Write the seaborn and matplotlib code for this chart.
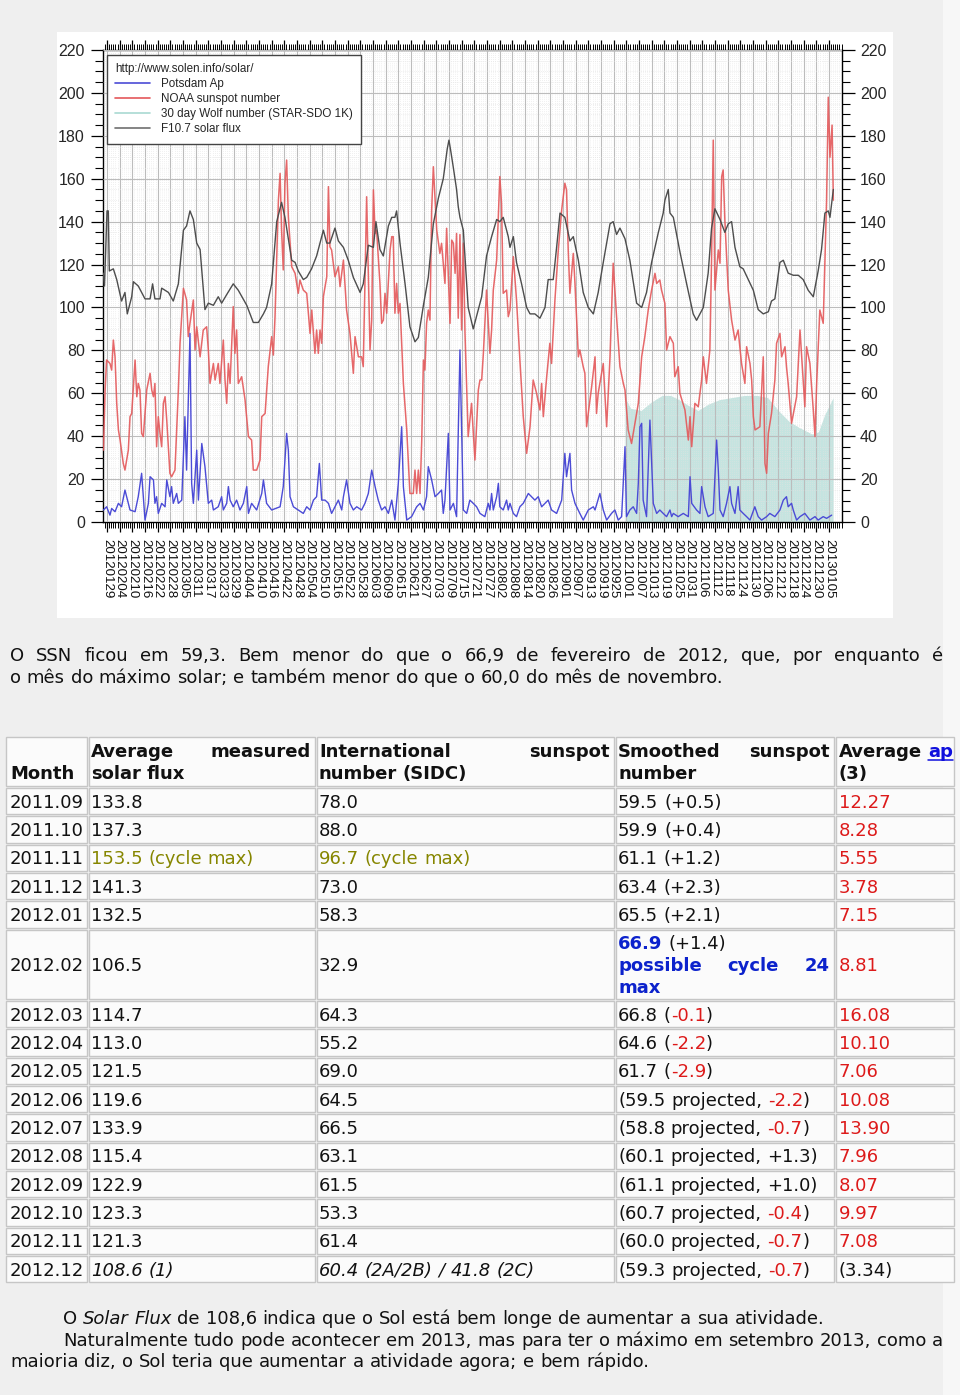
import re
import numpy as np
import pandas as pd
import matplotlib
matplotlib.use("Agg")
import matplotlib.pyplot as plt
import seaborn as sns
from matplotlib.patches import Rectangle
from matplotlib.lines import Line2D
from matplotlib.ticker import MultipleLocator, FixedLocator

W, H = 960, 1395

# ---------------- chart data (day offset from 2012-01-29) ----------------
flux_day = [-1.8, -1.2, 0.0, 0.6, 1.1, 3.0, 4.6, 6.9, 8.5, 9.6,
            11.7, 12.5, 14.8, 18.0, 20.4, 21.6, 22.7, 25.1, 25.9, 29.1,
            31.4, 33.8, 36.2, 37.7, 39.3, 40.9, 42.5, 44.1, 46.4, 48.0,
            50.4, 52.7, 54.3, 56.7, 59.8, 62.2, 66.2, 69.3, 71.7, 74.1,
            75.6, 78.0, 80.4, 82.7, 84.3, 87.5, 89.1, 90.6, 93.0, 94.6,
            96.9, 99.3, 102.5, 104.1, 105.6, 108.0, 109.6, 112.0, 114.3, 116.7,
            119.9, 121.4, 123.8, 126.2, 127.4, 129.3, 130.9, 133.3, 134.9, 136.4,
            137.2, 138.8, 141.2, 143.5, 145.9, 147.5, 149.9, 152.2, 154.6, 157.0,
            159.3, 161.2, 162.0, 163.0, 164.1, 165.6, 166.4, 167.2, 168.8, 171.1,
            173.5, 175.1, 177.5, 179.8, 182.2, 184.6, 186.1, 187.7, 190.1, 190.9,
            192.5, 194.0, 196.4, 198.8, 200.4, 202.7, 205.1, 207.5, 209.0, 211.4,
            213.0, 214.6, 216.9, 219.3, 220.9, 223.3, 225.6, 228.0, 230.4, 232.7,
            235.1, 238.3, 239.8, 241.4, 243.0, 245.4, 247.7, 250.9, 253.3, 255.6,
            258.0, 261.2, 263.5, 264.3, 265.9, 266.7, 268.3, 271.4, 274.6, 277.7,
            279.3, 282.5, 284.8, 286.4, 288.0, 290.4, 292.7, 294.3, 295.9, 297.5,
            299.0, 299.8, 301.4, 303.8, 306.2, 308.5, 310.9, 313.3, 314.8, 316.4,
            318.8, 320.4, 322.7, 325.1, 327.5, 329.8, 332.2, 334.6, 336.9, 338.5,
            340.1, 341.7, 342.5, 344.1]
flux_val = [116, 110, 145, 145, 117, 118, 113, 103, 107, 97,
            105, 112, 110, 104, 104, 111, 104, 104, 109, 107,
            103, 111, 136, 138, 145, 141, 130, 127, 99, 102,
            101, 105, 102, 106, 111, 108, 101, 93, 93, 97,
            100, 111, 140, 149, 142, 122, 121, 117, 113, 114,
            118, 124, 136, 130, 130, 137, 131, 128, 122, 114,
            107, 111, 129, 128, 140, 127, 124, 138, 142, 142,
            145, 130, 111, 91, 84, 86, 101, 114, 139, 151,
            160, 174, 178, 172, 165, 155, 147, 142, 136, 100,
            90, 96, 105, 124, 133, 141, 140, 142, 133, 128,
            133, 121, 111, 100, 97, 97, 95, 100, 113, 113,
            128, 144, 142, 131, 133, 122, 107, 100, 97, 107,
            121, 139, 140, 134, 137, 132, 122, 102, 100, 107,
            121, 135, 144, 150, 155, 144, 142, 126, 111, 97,
            94, 100, 116, 137, 146, 141, 135, 139, 140, 128,
            122, 119, 118, 113, 108, 99, 97, 98, 103, 104,
            121, 122, 116, 115, 115, 113, 108, 105, 117, 127,
            144, 145, 142, 155]

noaa_day = [-1.7, -0.9, -0.2, 1.4, 2.2, 3.0, 3.8, 4.6, 5.4, 6.2,
            7.7, 8.5, 10.1, 10.9, 11.7, 13.3, 14.1, 14.8, 15.6, 16.4,
            17.2, 18.8, 20.4, 21.2, 22.0, 22.7, 23.5, 24.3, 25.1, 25.9,
            26.7, 27.5, 28.3, 29.8, 30.6, 32.2, 33.8, 34.6, 36.2, 37.7,
            38.5, 39.3, 40.9, 41.7, 42.5, 44.1, 45.6, 47.2, 48.0, 48.8,
            50.4, 51.2, 52.7, 53.5, 55.1, 55.9, 56.7, 57.5, 58.3, 59.8,
            60.6, 61.4, 62.2, 63.8, 65.4, 67.0, 68.5, 69.3, 70.9, 72.5,
            73.3, 74.9, 76.4, 78.0, 78.8, 79.6, 81.2, 82.0, 82.7, 83.5,
            84.3, 85.1, 85.9, 87.5, 89.1, 90.6, 91.4, 93.0, 94.6, 96.2,
            97.0, 98.5, 99.3, 100.1, 100.9, 101.7, 102.5, 104.1, 104.9, 105.6,
            106.4, 108.0, 109.6, 110.4, 112.0, 113.5, 115.1, 116.7, 117.5, 119.1,
            120.6, 121.4, 123.0, 124.6, 125.4, 126.2, 127.0, 127.7, 129.3, 130.1,
            130.9, 131.7, 132.5, 134.1, 134.9, 135.6, 136.4, 137.2, 138.0, 138.8,
            140.4, 142.0, 143.5, 145.1, 145.9, 146.7, 147.5, 148.3, 149.1, 149.9,
            150.6, 151.4, 152.2, 153.0, 153.8, 154.6, 156.2, 157.7, 158.5, 160.1,
            160.9, 162.5, 163.3, 164.1, 164.9, 165.6, 166.4, 167.2, 168.0, 168.8,
            169.6, 171.1, 172.7, 174.3, 175.9, 176.7, 177.5, 178.3, 179.8, 181.4,
            182.2, 183.0, 184.6, 186.1, 186.9, 187.7, 189.3, 190.1, 190.9, 192.5,
            194.0, 195.6, 197.2, 198.8, 200.4, 201.9, 203.5, 205.1, 205.9, 206.7,
            208.3, 209.8, 210.6, 212.2, 213.8, 215.4, 216.9, 217.7, 218.5, 219.3,
            220.9, 221.7, 223.3, 224.0, 225.6, 226.4, 227.2, 229.6, 231.2, 231.9,
            232.7, 233.5, 235.1, 236.7, 238.3, 239.8, 241.4, 243.0, 244.6, 245.4,
            246.9, 248.5, 249.3, 251.7, 253.3, 254.8, 256.4, 258.0, 259.6, 260.4,
            261.9, 262.7, 264.3, 265.1, 266.7, 268.3, 269.0, 270.6, 271.4, 273.8,
            275.4, 276.2, 277.0, 278.5, 280.1, 281.7, 282.5, 284.0, 285.6, 286.4,
            287.2, 288.0, 289.6, 290.4, 291.2, 291.9, 292.7, 294.3, 295.9, 297.5,
            299.0, 300.6, 302.2, 303.0, 304.6, 305.4, 306.2, 307.0, 309.3, 310.9,
            311.7, 312.5, 313.3, 314.8, 316.4, 317.2, 318.8, 319.6, 321.2, 321.9,
            322.7, 324.3, 326.7, 328.3, 329.8, 330.6, 331.4, 333.0, 334.6, 335.4,
            336.2, 337.7, 339.3, 340.9, 341.7, 342.5, 343.5, 344.1]
noaa_val = [33.5, 61.5, 75.5, 73.9, 70.8, 84.8, 77.0, 55.3, 42.9, 38.2,
            27.3, 24.2, 33.5, 49.1, 50.6, 75.5, 58.4, 64.6, 61.5, 41.3,
            39.8, 61.5, 69.3, 61.5, 58.4, 64.6, 35.1, 49.1, 41.3, 35.1,
            55.3, 58.4, 47.5, 22.7, 21.1, 24.2, 61.5, 83.3, 108.9, 103.5,
            86.4, 92.6, 103.5, 80.2, 91.0, 77.0, 89.5, 91.0, 80.2, 64.6,
            73.9, 66.2, 73.9, 64.6, 84.8, 66.2, 55.3, 73.9, 64.6, 100.4,
            78.6, 89.5, 64.6, 67.7, 56.9, 39.8, 38.2, 24.2, 24.2, 28.9,
            49.1, 50.6, 72.4, 86.4, 77.8, 95.7, 150.1, 162.5, 136.1, 117.5,
            157.9, 168.7, 142.3, 119.0, 115.9, 106.6, 112.8, 108.1, 106.6, 87.9,
            98.8, 78.6, 89.5, 78.6, 89.5, 83.3, 105.0, 114.3, 156.3, 128.3,
            126.8, 114.3, 119.0, 109.7, 122.1, 98.8, 87.9, 69.3, 86.4, 77.0,
            77.0, 72.4, 151.6, 80.2, 94.1, 154.8, 134.5, 136.1, 111.2, 92.6,
            94.1, 106.6, 97.3, 126.8, 133.0, 133.0, 97.3, 111.2, 97.3, 101.9,
            64.6, 42.9, 13.3, 13.3, 24.2, 13.3, 24.2, 13.3, 38.2, 75.5,
            70.8, 92.6, 98.8, 94.1, 145.4, 165.6, 136.1, 125.2, 129.9, 111.2,
            136.9, 92.6, 131.4, 129.9, 115.9, 134.5, 95.0, 134.0, 89.5, 130.0,
            88.0, 39.8, 55.3, 28.9, 61.5, 66.2, 66.2, 78.6, 108.1, 78.6,
            89.5, 108.1, 122.1, 161.0, 148.5, 106.6, 108.1, 95.7, 98.8, 123.7,
            103.5, 75.5, 49.1, 32.0, 44.4, 66.2, 60.0, 52.2, 64.6, 49.1,
            67.7, 83.3, 73.9, 103.5, 126.8, 145.4, 157.9, 154.8, 126.8, 106.6,
            125.2, 111.2, 77.0, 80.2, 72.4, 69.3, 44.4, 63.1, 77.0, 50.6,
            60.0, 64.6, 73.9, 44.4, 77.0, 120.6, 95.7, 72.4, 64.6, 61.5,
            42.9, 36.6, 41.3, 55.3, 77.0, 86.4, 98.8, 108.1, 115.9, 111.2,
            112.8, 108.1, 101.9, 80.2, 86.4, 83.3, 67.7, 72.4, 60.0, 52.2,
            38.2, 49.1, 35.1, 55.3, 53.7, 66.2, 77.0, 64.6, 80.2, 122.1,
            178.0, 108.1, 126.8, 120.6, 161.0, 164.1, 140.8, 108.1, 94.1, 84.8,
            89.5, 73.9, 64.6, 81.7, 73.9, 66.2, 49.1, 42.9, 44.4, 77.0,
            27.3, 22.7, 41.3, 50.6, 66.2, 83.3, 87.9, 77.0, 81.7, 72.4,
            64.6, 46.0, 58.4, 89.5, 66.2, 53.7, 81.7, 73.9, 52.2, 39.8,
            64.6, 98.8, 92.6, 150.0, 198.0, 170.0, 185.0, 150.0]

ap_day = [-1.7, -0.2, 1.4, 2.2, 3.8, 5.4, 6.9, 8.5, 10.1, 10.9,
          13.3, 14.8, 16.4, 17.2, 18.0, 19.6, 20.4, 22.0, 22.7, 23.5,
          24.3, 25.9, 27.5, 28.3, 29.8, 30.6, 31.4, 33.0, 33.8, 35.4,
          36.9, 37.7, 39.3, 40.1, 40.9, 42.5, 43.3, 44.9, 46.4, 48.0,
          49.6, 50.4, 52.7, 54.3, 55.1, 56.7, 57.5, 58.3, 59.8, 61.4,
          63.0, 64.6, 66.2, 67.0, 68.5, 70.9, 73.3, 74.1, 75.6, 78.0,
          82.0, 83.5, 85.1, 85.9, 86.7, 88.3, 90.6, 93.0, 94.6, 96.2,
          97.8, 99.3, 100.6, 101.7, 103.3, 104.9, 106.4, 108.0, 109.6, 111.2,
          112.0, 113.5, 115.1, 116.7, 118.3, 120.6, 122.2, 123.8, 125.4, 127.0,
          128.5, 130.1, 131.7, 133.3, 134.9, 136.4, 138.0, 139.6, 140.4, 142.0,
          144.3, 146.7, 148.3, 149.9, 151.4, 152.2, 153.8, 155.4, 157.0, 158.5,
          159.3, 160.1, 161.7, 162.5, 164.1, 165.6, 167.2, 168.8, 170.4, 171.9,
          173.5, 175.1, 176.7, 179.0, 180.6, 181.4, 182.2, 183.0, 184.6, 185.4,
          186.1, 187.7, 189.3, 190.1, 190.9, 192.5, 194.0, 195.6, 197.2, 199.6,
          201.1, 202.7, 204.3, 205.9, 207.5, 209.0, 210.6, 213.0, 215.4, 216.9,
          217.7, 219.3, 220.1, 221.7, 224.0, 225.6, 228.0, 230.4, 231.2, 233.5,
          235.1, 236.7, 239.0, 240.6, 242.2, 243.8, 245.4, 246.1, 247.7, 249.3,
          250.9, 251.7, 252.5, 253.3, 254.0, 255.6, 257.2, 258.8, 260.4, 261.9,
          263.5, 265.1, 266.7, 267.5, 268.3, 270.6, 273.0, 275.4, 276.2, 277.0,
          279.3, 280.9, 281.7, 283.3, 284.8, 287.2, 288.8, 289.6, 290.4, 291.9,
          293.5, 295.1, 295.9, 297.5, 299.0, 299.8, 301.4, 303.0, 304.6, 306.9,
          308.5, 310.1, 312.5, 314.0, 316.4, 318.8, 320.4, 321.9, 322.7, 324.3,
          325.1, 326.7, 328.3, 330.6, 333.0, 335.4, 336.9, 339.3, 340.9, 343.3]
ap_val = [5.6, 7.1, 3.2, 6.3, 4.8, 8.7, 7.1, 14.9, 8.7, 5.6,
          4.8, 11.8, 22.7, 11.8, 0.9, 8.7, 21.1, 19.6, 8.7, 11.8,
          4.0, 8.7, 7.1, 19.6, 11.8, 16.5, 8.7, 13.3, 8.7, 10.2,
          49.1, 24.2, 87.9, 18.0, 8.7, 33.5, 10.2, 36.6, 25.8, 8.7,
          10.2, 5.6, 7.1, 11.8, 5.6, 8.7, 16.5, 10.2, 7.1, 10.2,
          5.6, 8.7, 16.5, 4.0, 8.7, 5.6, 13.3, 19.6, 8.7, 5.6,
          7.1, 16.5, 41.3, 33.5, 11.8, 7.1, 5.6, 4.0, 7.1, 5.6,
          10.2, 11.8, 27.3, 10.2, 10.2, 8.7, 4.0, 7.1, 10.2, 5.6,
          11.8, 19.6, 8.7, 5.6, 7.1, 5.6, 8.7, 13.3, 24.2, 16.5,
          10.2, 5.6, 7.1, 4.0, 10.2, 0.9, 18.0, 44.4, 16.5, 0.9,
          2.5, 7.1, 8.7, 5.6, 11.8, 25.8, 19.6, 11.8, 13.3, 14.9,
          4.0, 10.2, 41.3, 5.6, 8.7, 2.5, 80.2, 5.6, 4.0, 10.2,
          8.7, 7.1, 4.0, 2.5, 8.7, 5.6, 13.3, 5.6, 11.8, 18.0,
          7.1, 5.6, 10.2, 5.6, 8.7, 4.0, 2.5, 7.1, 8.7, 13.3,
          11.8, 10.2, 11.8, 7.1, 8.7, 10.2, 5.6, 4.0, 10.2, 32.0,
          21.1, 32.0, 14.9, 8.7, 4.0, 0.9, 5.6, 7.1, 5.6, 13.3,
          5.6, 0.9, 4.0, 5.6, 0.9, 2.5, 35.1, 2.5, 5.6, 7.1,
          4.0, 18.0, 44.4, 46.0, 10.2, 2.5, 47.5, 8.7, 4.0, 5.6,
          4.0, 2.5, 5.6, 2.5, 4.0, 2.5, 4.0, 2.5, 21.1, 8.7,
          5.6, 4.0, 16.5, 7.1, 2.5, 4.0, 38.2, 24.2, 5.6, 2.5,
          8.7, 16.5, 8.7, 4.0, 16.5, 5.6, 4.0, 2.5, 0.9, 7.1,
          2.5, 0.9, 2.5, 4.0, 2.5, 5.6, 10.2, 11.8, 7.1, 8.7,
          5.6, 0.9, 2.5, 4.0, 0.9, 2.5, 0.9, 2.5, 1.7, 3.2]

wolf_day = [245.4, 248.0, 253.0, 258.0, 263.0, 267.0, 271.0, 276.0, 280.0, 285.0,
            290.0, 296.0, 302.0, 308.0, 313.0, 318.0, 323.0, 328.0, 334.0, 337.0,
            340.0, 344.0]
wolf_val = [58, 53, 52, 56, 59, 59, 57, 54, 52, 55,
            57, 58, 59, 59, 58, 52, 47, 44, 41, 42,
            50, 58]

series_labels = ["Potsdam Ap", "NOAA sunspot number",
                 "30 day Wolf number (STAR-SDO 1K)", "F10.7 solar flux"]
legend_title = "http://www.solen.info/solar/"
tick_dates = pd.date_range("2012-01-29", "2013-01-05", freq="6D")
tick_labels = [d.strftime("%Y%m%d") for d in tick_dates]
tick_pos = [(d - tick_dates[0]).days for d in tick_dates]

# ---------------- table / text data ----------------
months = ["2011.09", "2011.10", "2011.11", "2011.12", "2012.01", "2012.02", "2012.03", "2012.04",
          "2012.05", "2012.06", "2012.07", "2012.08", "2012.09", "2012.10", "2012.11", "2012.12"]
solar_flux = ["133.8", "137.3", "153.5 (cycle max)", "141.3", "132.5", "106.5", "114.7", "113.0",
              "121.5", "119.6", "133.9", "115.4", "122.9", "123.3", "121.3", "108.6 (1)"]
sidc = ["78.0", "88.0", "96.7 (cycle max)", "73.0", "58.3", "32.9", "64.3", "55.2",
        "69.0", "64.5", "66.5", "63.1", "61.5", "53.3", "61.4", "60.4 (2A/2B) / 41.8 (2C)"]
smoothed = ["59.5 (+0.5)", "59.9 (+0.4)", "61.1 (+1.2)", "63.4 (+2.3)", "65.5 (+2.1)", "66.9 (+1.4)",
            "66.8 (-0.1)", "64.6 (-2.2)", "61.7 (-2.9)", "(59.5 projected, -2.2)",
            "(58.8 projected, -0.7)", "(60.1 projected, +1.3)", "(61.1 projected, +1.0)",
            "(60.7 projected, -0.4)", "(60.0 projected, -0.7)", "(59.3 projected, -0.7)"]
ap_avg = ["12.27", "8.28", "5.55", "3.78", "7.15", "8.81", "16.08", "10.10",
          "7.06", "10.08", "13.90", "7.96", "8.07", "9.97", "7.08", "(3.34)"]

para1 = ["O SSN ficou em 59,3. Bem menor do que o 66,9 de fevereiro de 2012, que, por enquanto é",
         "o mês do máximo solar; e também menor do que o 60,0 do mês de novembro."]
para2 = ["de 108,6 indica que o Sol está bem longe de aumentar a sua atividade.",
         "Naturalmente tudo pode acontecer em 2013, mas para ter o máximo em setembro 2013, como a",
         "maioria diz, o Sol teria que aumentar a atividade agora; e bem rápido."]

# ---------------- figure ----------------
sns.set_style("white")
plt.rcParams['font.family'] = ['Liberation Sans', 'DejaVu Sans']
fig = plt.figure(figsize=(9.6, 13.95), dpi=100, facecolor='#efefef')


def fx(x):
    return x / W


def fy(y):
    return 1 - y / H


fig.add_artist(Rectangle((fx(943), 0), (960 - 943) / W, 1, transform=fig.transFigure,
                         facecolor='#f7f7f7', edgecolor='none', zorder=-10))
fig.add_artist(Rectangle((fx(57), fy(618)), (893 - 57) / W, (618 - 32) / H, transform=fig.transFigure,
                         facecolor='white', edgecolor='none', zorder=-5))

ax = fig.add_axes([fx(103), fy(522), (842 - 103) / W, (522 - 50) / H])
ax.set_facecolor('white')

C_AP, C_NOAA, C_WOLF, C_FLUX = '#4b4bd6', '#e4585a', '#7fc4bb', '#4d4d4d'

ax.fill_between(wolf_day, wolf_val, 0, color=C_WOLF, alpha=0.45, lw=0, zorder=1)
sns.lineplot(x=noaa_day, y=noaa_val, ax=ax, color=C_NOAA, lw=1.1, alpha=0.9,
             estimator=None, sort=False, zorder=3)
sns.lineplot(x=flux_day, y=flux_val, ax=ax, color=C_FLUX, lw=1.0,
             estimator=None, sort=False, zorder=3)
sns.lineplot(x=ap_day, y=ap_val, ax=ax, color=C_AP, lw=1.0,
             estimator=None, sort=False, zorder=4)

ax.set_xlim(-1.9, 348.2)
ax.set_ylim(0, 220)
ax.set_xlabel("")
ax.set_ylabel("")
ax.xaxis.set_major_locator(FixedLocator(tick_pos))
ax.set_xticklabels(tick_labels, rotation=-90, fontsize=9.6, color='#111111')
ax.xaxis.set_minor_locator(MultipleLocator(1))
ax.yaxis.set_major_locator(MultipleLocator(20))
ax.yaxis.set_minor_locator(MultipleLocator(5))
ax.tick_params(axis='x', which='both', direction='out', bottom=True, top=True,
               labelbottom=True, labeltop=False, color='black', pad=5)
ax.tick_params(axis='x', which='major', length=7, width=0.9)
ax.tick_params(axis='x', which='minor', length=4, width=0.7)
ax.tick_params(axis='y', which='both', direction='out', left=True, right=True,
               labelleft=True, labelright=True, color='black', labelsize=11.5, pad=4)
ax.tick_params(axis='y', which='major', length=9, width=0.9)
ax.tick_params(axis='y', which='minor', length=6, width=0.8)
ax.set_axisbelow(False)
ax.grid(which='major', color='#bcbcbc', lw=0.8, zorder=2)
ax.grid(which='minor', color='#e2e2e2', lw=0.5, ls=(0, (1, 2)), zorder=2)
for gl in ax.get_xgridlines() + ax.get_ygridlines():
    gl.set_zorder(2)
for s in ax.spines.values():
    s.set_color('black')
    s.set_linewidth(1.0)

handles = [Line2D([], [], color=c, lw=1.2) for c in (C_AP, C_NOAA, '#a9d9d2', '#707070')]
leg = ax.legend(handles, series_labels, title=legend_title, loc='upper left',
                bbox_to_anchor=(0.005, 0.99), borderaxespad=0, frameon=True, fancybox=False,
                edgecolor='#444444', framealpha=1, fontsize=8.4, title_fontsize=8.4,
                handlelength=3.0, handletextpad=0.9, labelspacing=0.25, borderpad=0.75,
                alignment='left')
leg.get_frame().set_linewidth(1.0)
leg.set_zorder(10)

# ---------------- page text helpers ----------------
PF = 'DejaVu Sans'
R = fig.canvas.get_renderer()
TXT = '#111111'
RED = '#dd1a1a'
OLIVE = '#868600'
BLUE = '#0c22cc'
LINK = '#1010dd'


def tw(s, size, weight='normal', style='normal'):
    t = fig.text(0, 0, s, fontsize=size, family=PF, weight=weight, style=style)
    w = t.get_window_extent(R).width
    t.remove()
    return w


def fit(s, target, weight='normal'):
    return 10.0 * target / tw(s, 10.0, weight)


def plain(s, **o):
    return [[(w, o)] for w in s.split()]


def draw_line(tokens, x0, yc, size, x1=None):
    widths = [[tw(s, size, o.get('weight', 'normal'), o.get('style', 'normal')) for s, o in tok]
              for tok in tokens]
    totals = [sum(w) for w in widths]
    sp = tw('a a', size) - tw('aa', size)
    if x1 is not None and len(tokens) > 1:
        gap = (x1 - x0 - sum(totals)) / (len(tokens) - 1)
    else:
        gap = sp
    base = yc + 0.36 * size * 100 / 72
    x = x0
    for tok, ws in zip(tokens, widths):
        for (s, o), w in zip(tok, ws):
            fig.text(fx(x), fy(base), s, fontsize=size, family=PF, color=o.get('color', TXT),
                     weight=o.get('weight', 'normal'), style=o.get('style', 'normal'),
                     ha='left', va='baseline')
            if o.get('underline'):
                fig.add_artist(Line2D([fx(x), fx(x + w)], [fy(base + 2.5)] * 2,
                                      transform=fig.transFigure, color=o.get('color', TXT), lw=1.1))
            x += w
        x += gap


def seg_tokens(text, **base):
    toks = []
    for word in text.split(' '):
        parts = []
        for piece in re.split(r'(-\d+\.\d+)', word):
            if not piece:
                continue
            o = dict(base)
            if re.fullmatch(r'-\d+\.\d+', piece):
                o['color'] = RED
            parts.append((piece, o))
        toks.append(parts)
    return toks


# ---------------- paragraphs ----------------
ps = fit(para1[1], 712)
draw_line(plain(para1[0]), 10, 655, ps, x1=943)
draw_line(plain(para1[1]), 10, 677, ps)

b1 = [[("O", {})], [("Solar", {'style': 'italic'})], [("Flux", {'style': 'italic'})]] + plain(para2[0])
draw_line(b1, 63, 1318, ps)
draw_line(plain(para2[1]), 63, 1340, ps, x1=943)
draw_line(plain(para2[2]), 10, 1361, ps)

# ---------------- table ----------------
ts = fit("2011.09", 74)
col_x = [5, 88, 316, 615, 835, 955]
text_x = [10, 91, 319, 618, 839]
rh = 28.33
row_edges = [736, 787]
for i in range(len(months)):
    row_edges.append(row_edges[-1] + (71.4 if i == 5 else rh))

for r in range(len(row_edges) - 1):
    for c in range(len(col_x) - 1):
        x0, x1 = col_x[c] + 1, col_x[c + 1] - 1
        y0, y1 = row_edges[r] + 1, row_edges[r + 1] - 1
        fig.add_artist(Rectangle((fx(x0), fy(y1)), (x1 - x0) / W, (y1 - y0) / H,
                                 transform=fig.transFigure, facecolor='#fbfbfb',
                                 edgecolor='#c6c6c6', lw=1.0, zorder=-4))

B = {'weight': 'bold'}
draw_line(plain("Average measured", **B), text_x[1], 751, ts, x1=311)
draw_line(plain("International sunspot", **B), text_x[2], 751, ts, x1=610)
draw_line(plain("Smoothed sunspot", **B), text_x[3], 751, ts, x1=830)
draw_line([[("Average", B)], [("ap", {'weight': 'bold', 'color': LINK, 'underline': True})]],
          text_x[4], 751, ts)
draw_line(plain("Month", **B), text_x[0], 773, ts)
draw_line(plain("solar flux", **B), text_x[1], 773, ts)
draw_line(plain("number (SIDC)", **B), text_x[2], 773, ts)
draw_line(plain("number", **B), text_x[3], 773, ts)
draw_line(plain("(3)", **B), text_x[4], 773, ts)

last = len(months) - 1
for i in range(len(months)):
    yc = (row_edges[i + 1] + row_edges[i + 2]) / 2
    draw_line(plain(months[i]), text_x[0], yc, ts)
    for c, vals in ((1, solar_flux), (2, sidc)):
        o = {}
        if 'cycle max' in vals[i]:
            o['color'] = OLIVE
        if i == last:
            o['style'] = 'italic'
        draw_line(plain(vals[i], **o), text_x[c], yc, ts)
    if i == 5:
        num, rest = smoothed[i].split(' ', 1)
        draw_line([[(num, {'weight': 'bold', 'color': BLUE})], [(rest, {})]], text_x[3], yc - 22, ts)
        draw_line(plain("possible cycle 24", weight='bold', color=BLUE), text_x[3], yc, ts, x1=830)
        draw_line(plain("max", weight='bold', color=BLUE), text_x[3], yc + 22, ts)
    else:
        draw_line(seg_tokens(smoothed[i]), text_x[3], yc, ts)
    apo = {} if ap_avg[i].startswith('(') else {'color': RED}
    draw_line(plain(ap_avg[i], **apo), text_x[4], yc, ts)

fig.savefig("out.png", dpi=100, facecolor=fig.get_facecolor())
